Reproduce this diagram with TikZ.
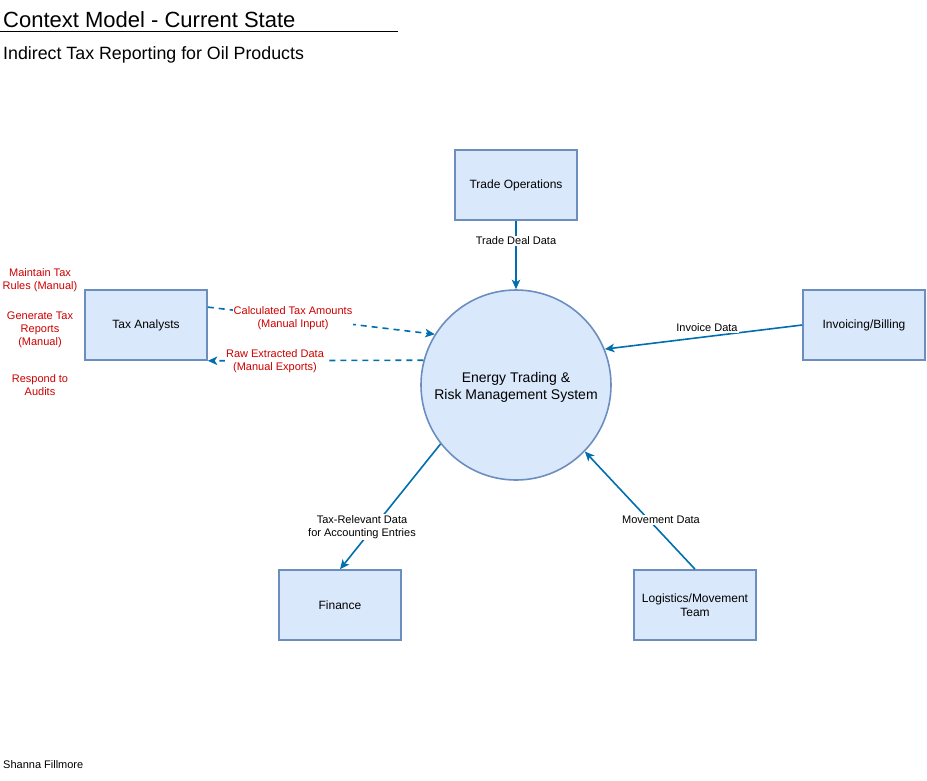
\documentclass[tikz,border=0pt]{standalone}
\usepackage{fontspec}
\setmainfont{Liberation Sans}
\usetikzlibrary{arrows.meta,calc}
\definecolor{boxfill}{HTML}{DAE8FC}
\definecolor{boxline}{HTML}{6C8EBF}
\definecolor{arrowblue}{HTML}{006EAF}
\definecolor{manualred}{HTML}{CC0000}
\tikzset{
  entity/.style={draw=boxline,fill=boxfill,line width=1.6pt,minimum width=122pt,minimum height=70pt,inner sep=0pt,align=center,font=\fontsize{12}{14}\selectfont},
  sysnode/.style={circle,draw=boxline,fill=boxfill,line width=1.6pt,minimum size=190pt,inner sep=0pt},
  systext/.style={align=center,inner sep=0pt,font=\fontsize{14}{16.5}\selectfont},
  flow/.style={draw=arrowblue,line width=1.6pt,-{Stealth[length=9.5pt,width=8.5pt,inset=2.5pt]}},
  manflow/.style={flow,dash pattern=on 6pt off 5pt},
  flowlabel/.style={fill=white,inner sep=1pt,align=center,font=\fontsize{11}{13}\selectfont},
  redlabel/.style={flowlabel,text=manualred},
  redtask/.style={align=center,inner sep=0pt,text=manualred,font=\fontsize{11}{13}\selectfont}
}
\begin{document}
\begin{tikzpicture}[x=1pt,y=-1pt]
\useasboundingbox (0,0) rectangle (927,780);
% title
\node[anchor=base west,inner sep=0pt,font=\fontsize{22}{26}\selectfont] (title) at (3,27) {Context Model - Current State};
\draw[line width=0.8pt] (0,31.5) -- (398,31.5);
\node[anchor=base west,inner sep=0pt,font=\fontsize{17.8}{21}\selectfont] (subtitle) at (3,59) {Indirect Tax Reporting for Oil Products};
% nodes
\node[sysnode] (ets) at (516,385) {};
\node[systext] (etstext) at ([yshift=-2.5pt]ets.center) {Energy Trading \&\\Risk Management System};
\node[entity] (trade) at (516,185) {Trade Operations};
\node[entity] (tax) at (146,325) {Tax Analysts};
\node[entity] (inv) at (864,325) {Invoicing/Billing};
\node[entity] (fin) at (340,605) {Finance};
\node[entity] (log) at (695,605) {Logistics/Movement\\Team};
% tasks
\node[redtask] (t1) at (40,280) {Maintain Tax\\Rules (Manual)};
\node[redtask] (t2) at (40,330) {Generate Tax\\Reports\\(Manual)};
\node[redtask] (t3) at (40,385) {Respond to\\Audits};
% connectors
\draw[flow] (trade.south) -- (ets.north);
\node[flowlabel] (l1) at (516,241) {Trade Deal Data};
\draw[flow] (inv.west) -- (ets.22.7);
\node[flowlabel] (l2) at (707,328) {Invoice Data};
\coordinate (taxout) at ($(tax.north east)!0.25!(tax.south east)$);
\draw[manflow] (taxout) -- (ets.148);
\node[redlabel] (l3) at (293,318) {Calculated Tax Amounts\\(Manual Input)};
\draw[manflow] (ets.165) -- (tax.south east);
\node[redlabel] (l4) at (275,361) {Raw Extracted Data\\(Manual Exports)};
\draw[flow] (ets.218) -- (fin.north);
\node[flowlabel] (l5) at (362,527) {Tax-Relevant Data\\for Accounting Entries};
\draw[flow] (log.north) -- (ets.-44);
\node[flowlabel] (l6) at (661,520) {Movement Data};
% author
\node[anchor=base west,inner sep=0pt,font=\fontsize{11}{13}\selectfont] (author) at (3,768) {Shanna Fillmore};
\end{tikzpicture}
\end{document}
